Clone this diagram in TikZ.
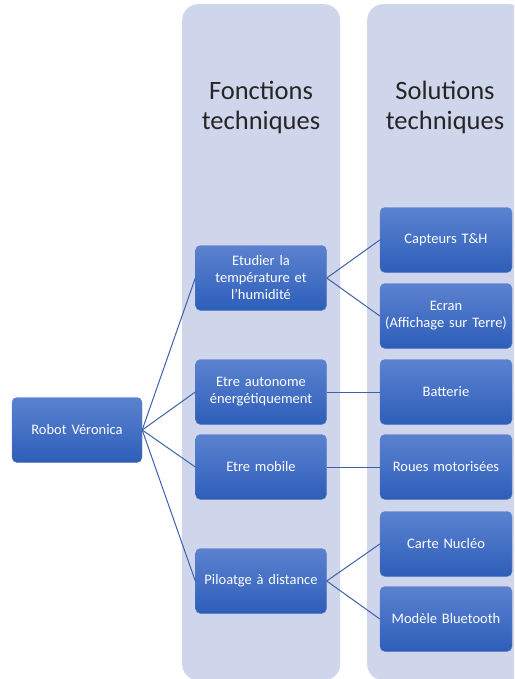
\documentclass[tikz,border=0pt]{standalone}
\usepackage{fontspec}
\setmainfont{Carlito}
\usetikzlibrary{positioning,calc}
\usepackage{xcolor}
\definecolor{panelfill}{HTML}{CFD5EA}
\definecolor{boxtop}{HTML}{5B82D0}
\definecolor{boxbot}{HTML}{2E5EB9}
\definecolor{linkcol}{HTML}{3D62AB}

\begin{document}
\begin{tikzpicture}[
				x=1pt,y=-1pt,
				panel/.style={rectangle,rounded corners=16pt,fill=panelfill,minimum width=158pt,minimum height=676pt,anchor=north west,inner sep=0pt},
				header/.style={font=\fontsize{26.5}{30}\selectfont,align=center,text=black!85},
				block/.style={rectangle,rounded corners=5pt,top color=boxtop,bottom color=boxbot,draw=boxbot!80!white,line width=0.4pt,minimum width=131pt,minimum height=65pt,text width=124pt,inner sep=3pt,align=center,text=white,font=\fontsize{14.5}{17}\selectfont},
				link/.style={linkcol,line width=1pt}
				]
				
				\clip (0,0) rectangle (514,679);
				\useasboundingbox (0,0) rectangle (514,679);
				
				% colonnes de fond
				\node[panel] (colf) at (182,4) {};
				\node[panel] (cols) at (367,4) {};
				\node[header] (hf) at (261,107) {Fonctions\\techniques};
				\node[header] (hs) at (445,107) {Solutions\\techniques};
				
				% racine
				\node[block,minimum width=130pt] (robot) at (77,430) {Robot Véronica};
				
				% fonctions techniques
				\node[block] (temp) at (261,278) {Etudier la\\température et\\l'humidité};
				\node[block] (auto) at (261,392) {Etre autonome\\énergétiquement};
				\node[block] (mob) at (261,467) {Etre mobile};
				\node[block] (pil) at (261,581) {Piloatge à distance};
				
				% solutions techniques
				\node[block,minimum width=132pt] (capt) at (446,240) {Capteurs T\&H};
				\node[block,minimum width=132pt] (ecran) at (446,316) {Ecran\\(Affichage sur Terre)};
				\node[block,minimum width=132pt] (batt) at (446,392) {Batterie};
				\node[block,minimum width=132pt] (roues) at (446,467) {Roues motorisées};
				\node[block,minimum width=132pt] (carte) at (446,544) {Carte Nucléo};
				\node[block,minimum width=132pt] (bt) at (446,619) {Modèle Bluetooth};
				
				% liaisons racine -> fonctions
				\draw[link] (robot.east) -- (temp.west);
				\draw[link] (robot.east) -- (auto.west);
				\draw[link] (robot.east) -- (mob.west);
				\draw[link] (robot.east) -- (pil.west);
				
				% liaisons fonctions -> solutions
				\draw[link] (temp.east) -- (capt.west);
				\draw[link] (temp.east) -- (ecran.west);
				\draw[link] (auto.east) -- (batt.west);
				\draw[link] (mob.east) -- (roues.west);
				\draw[link] (pil.east) -- (carte.west);
				\draw[link] (pil.east) -- (bt.west);
				
			\end{tikzpicture}
\end{document}
